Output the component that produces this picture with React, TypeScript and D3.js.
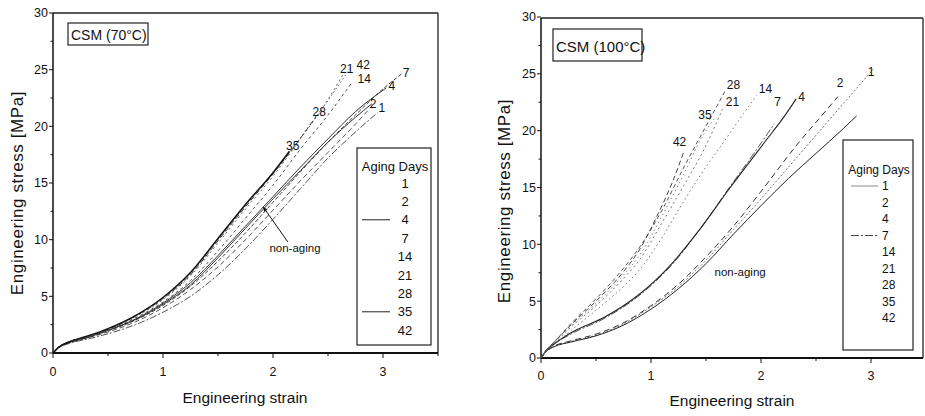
import React, { useEffect } from 'react';
import * as d3 from 'd3';

type Pt = [number, number];

// ---------- CSM 70°C : [strain, stress MPa] ----------
const c70_d1: Pt[] = [[0,0],[0.05,0.45],[0.15,0.85],[0.3,1.2],[0.5,1.7],[0.75,2.5],[1.0,3.6],[1.25,5.0],[1.5,6.9],[1.75,9.2],[2.0,11.8],[2.25,14.5],[2.5,17.2],[2.75,19.5],[2.95,21.2]];
const c70_d2: Pt[] = [[0,0],[0.05,0.45],[0.15,0.9],[0.3,1.3],[0.5,1.85],[0.75,2.75],[1.0,4.0],[1.25,5.6],[1.5,7.6],[1.75,10.0],[2.0,12.6],[2.25,15.2],[2.5,17.7],[2.75,20.2],[2.9,21.8]];
const c70_d4: Pt[] = [[0,0],[0.05,0.5],[0.15,0.95],[0.3,1.35],[0.5,2.0],[0.75,3.0],[1.0,4.4],[1.25,6.2],[1.5,8.6],[1.75,11.2],[2.0,13.8],[2.25,16.4],[2.5,18.9],[2.75,21.3],[3.03,23.4]];
const c70_d7: Pt[] = [[0,0],[0.05,0.5],[0.15,0.9],[0.3,1.3],[0.5,1.95],[0.75,2.9],[1.0,4.2],[1.25,5.9],[1.5,8.1],[1.75,10.6],[2.0,13.3],[2.25,16.0],[2.5,18.6],[2.75,21.0],[3.0,23.3],[3.18,24.7]];
const c70_d14: Pt[] = [[0,0],[0.05,0.5],[0.15,0.95],[0.3,1.35],[0.5,2.05],[0.75,3.1],[1.0,4.5],[1.25,6.4],[1.5,9.0],[1.75,11.9],[2.0,14.8],[2.25,18.0],[2.5,21.0],[2.72,23.9]];
const c70_d21: Pt[] = [[0,0],[0.05,0.5],[0.15,1.0],[0.3,1.4],[0.5,2.1],[0.75,3.2],[1.0,4.7],[1.25,6.8],[1.5,9.7],[1.75,12.7],[2.0,15.6],[2.25,18.9],[2.45,21.6],[2.65,24.8]];
const c70_d28: Pt[] = [[0,0],[0.05,0.5],[0.15,1.0],[0.3,1.4],[0.5,2.1],[0.75,3.25],[1.0,4.8],[1.25,6.9],[1.5,9.9],[1.75,12.9],[2.0,15.8],[2.2,18.3],[2.4,21.0]];
const c70_d35: Pt[] = [[0,0],[0.05,0.5],[0.15,1.0],[0.3,1.45],[0.5,2.15],[0.75,3.3],[1.0,4.9],[1.25,7.1],[1.5,10.1],[1.75,13.1],[2.0,15.9],[2.15,17.8]];
const c70_d42: Pt[] = [[0,0],[0.05,0.5],[0.15,1.0],[0.3,1.4],[0.5,2.1],[0.75,3.25],[1.0,4.8],[1.25,7.0],[1.5,10.0],[1.75,13.0],[2.0,15.9],[2.25,19.0],[2.5,22.3],[2.7,25.1]];
const c70_non: Pt[] = [[0,0],[0.05,0.5],[0.15,0.95],[0.3,1.35],[0.5,2.0],[0.75,2.95],[1.0,4.3],[1.25,6.0],[1.5,8.4],[1.75,11.0],[2.0,13.6],[2.25,16.1],[2.5,18.6],[2.75,20.8],[2.9,22.0]];

// ---------- CSM 100°C ----------
const c100_non: Pt[] = [[0,0],[0.05,0.6],[0.12,1.0],[0.27,1.4],[0.5,1.95],[0.73,2.8],[1.0,4.3],[1.25,6.1],[1.5,8.3],[1.75,10.9],[2.0,13.4],[2.25,15.8],[2.5,18.0],[2.75,20.2],[2.87,21.3]];
const c100_d1: Pt[] = [[0,0],[0.05,0.6],[0.12,1.0],[0.27,1.45],[0.5,2.0],[0.73,2.9],[1.0,4.5],[1.25,6.3],[1.5,8.6],[1.75,11.3],[2.0,14.0],[2.25,16.8],[2.5,19.6],[2.75,22.4],[3.02,25.4]];
const c100_d2: Pt[] = [[0,0],[0.05,0.6],[0.12,1.05],[0.27,1.5],[0.5,2.1],[0.73,3.0],[1.0,4.6],[1.25,6.5],[1.5,8.9],[1.75,11.6],[2.02,14.9],[2.33,18.8],[2.55,21.3],[2.7,23.0]];
const c100_d4: Pt[] = [[0,0],[0.05,0.7],[0.1,1.1],[0.27,2.2],[0.58,3.6],[0.88,5.5],[1.18,8.2],[1.45,11.4],[1.72,15.0],[2.05,19.2],[2.2,21.1],[2.32,22.8]];
const c100_d7: Pt[] = [[0,0],[0.05,0.7],[0.1,1.1],[0.27,2.1],[0.58,3.5],[0.88,5.4],[1.18,8.1],[1.45,11.4],[1.72,15.1],[1.95,18.2],[2.12,20.6]];
const c100_d14: Pt[] = [[0,0],[0.05,0.6],[0.1,1.0],[0.27,2.4],[0.5,4.2],[0.75,6.3],[0.9,7.8],[1.1,10.6],[1.26,13.2],[1.45,16.1],[1.69,19.4],[1.84,21.5],[1.96,23.1]];
const c100_d21: Pt[] = [[0,0],[0.05,0.65],[0.1,1.1],[0.27,2.7],[0.5,4.6],[0.75,7.0],[0.9,8.7],[1.1,11.9],[1.3,15.2],[1.5,18.7],[1.65,21.9]];
const c100_d28: Pt[] = [[0,0],[0.05,0.7],[0.1,1.2],[0.27,3.0],[0.5,5.2],[0.75,7.9],[0.9,9.8],[1.1,13.0],[1.3,16.8],[1.5,20.4],[1.68,23.6]];
const c100_d35: Pt[] = [[0,0],[0.05,0.7],[0.1,1.2],[0.27,2.8],[0.5,4.8],[0.75,7.3],[0.9,9.1],[1.1,12.5],[1.3,16.2],[1.45,19.2],[1.57,21.0]];
const c100_d42: Pt[] = [[0,0],[0.05,0.7],[0.1,1.2],[0.27,2.9],[0.5,5.0],[0.75,7.6],[0.9,9.6],[1.05,12.4],[1.2,15.6],[1.3,18.2]];

// ---------- labels ----------
const DAYS = ['1', '2', '4', '7', '14', '21', '28', '35', '42'];
const Y_TICKS = [0, 5, 10, 15, 20, 25, 30];
const Y_MINOR = [2.5, 7.5, 12.5, 17.5, 22.5, 27.5];
const X_TICKS = [0, 1, 2, 3];
const X_MINOR = [0.5, 1.5, 2.5, 3.5];

// curve-end annotations [text, strain, stress]
const c70_notes: [string, number, number][] = [['21',2.67,25.1],['42',2.82,25.45],['14',2.83,24.2],['7',3.21,24.7],['4',3.08,23.6],['2',2.91,22.0],['1',2.99,21.6],['28',2.42,21.3],['35',2.18,18.3]];
const c100_notes: [string, number, number][] = [['28',1.75,24.0],['14',2.04,23.7],['21',1.74,22.5],['7',2.15,22.5],['4',2.37,23.0],['2',2.72,24.2],['1',3.0,25.2],['35',1.49,21.4],['42',1.26,19.0]];

const FONT = '"Liberation Sans", Arial, Helvetica, sans-serif';

type Series = { data: Pt[]; dash?: string; color: string; w: number };

type Cfg = {
  x0: number; x1: number; y0: number; y1: number;
  frameRight: number; frameTop: number;
  series: Series[];
  notes: [string, number, number][];
  nonAging: { s: number; v: number; arrow?: [number, number, number, number] };
  title: { text: string; x: number; y: number; w: number; h: number; fs: number; tx: number; ty: number };
  legend: { x: number; y: number; w: number; h: number; hx: number; hy: number; fs: number; nx: number; anchor: string; first: number; step: number; sx0: number; sx1: number; samples: Record<string, Series> };
  yTitle: { x: number; y: number };
  xTitle: { x: number; y: number };
  tickLabelY: number;
};

function Panel({ cfg }: { cfg: Cfg }) {
  const x = d3.scaleLinear().domain([0, 3.5]).range([cfg.x0, cfg.x1]);
  const y = d3.scaleLinear().domain([0, 30]).range([cfg.y0, cfg.y1]);
  const line = d3.line<Pt>().x(d => x(d[0])).y(d => y(d[1])).curve(d3.curveMonotoneX);
  const L = cfg.legend;
  return (
    <g fontFamily={FONT}>
      {/* frame */}
      <line x1={x(0)} x2={cfg.frameRight} y1={cfg.frameTop} y2={cfg.frameTop} stroke="#222" strokeWidth={1.3} />
      <line x1={cfg.frameRight} x2={cfg.frameRight} y1={cfg.frameTop} y2={y(0)} stroke="#222" strokeWidth={1.3} />
      <line x1={x(0)} x2={x(0)} y1={cfg.frameTop} y2={y(0)} stroke="#111" strokeWidth={1.5} />
      <line x1={x(0)} x2={cfg.frameRight} y1={y(0)} y2={y(0)} stroke="#111" strokeWidth={2} />
      {/* y ticks */}
      {Y_TICKS.map(t => (
        <g key={'y' + t}>
          <line x1={x(0) - 4} x2={x(0)} y1={y(t)} y2={y(t)} stroke="#111" strokeWidth={1} />
          <text x={x(0) - 5} y={y(t)} dy="0.35em" textAnchor="end" fontSize={12.5} fill="#111">{t}</text>
        </g>
      ))}
      {Y_MINOR.map(t => (
        <line key={'ym' + t} x1={x(0) - 2.5} x2={x(0)} y1={y(t)} y2={y(t)} stroke="#111" strokeWidth={1} />
      ))}
      {X_TICKS.map(t => (
        <g key={'x' + t}>
          <line x1={x(t)} x2={x(t)} y1={y(0)} y2={y(0) + 5} stroke="#111" strokeWidth={1} />
          <text x={x(t)} y={cfg.tickLabelY} textAnchor="middle" fontSize={12.5} fill="#111">{t}</text>
        </g>
      ))}
      {X_MINOR.map(t => (
        <line key={'xm' + t} x1={x(t)} x2={x(t)} y1={y(0)} y2={y(0) + 3} stroke="#111" strokeWidth={1} />
      ))}
      {/* axis titles */}
      <text x={cfg.xTitle.x} y={cfg.xTitle.y} textAnchor="middle" fontSize={15.5} fill="#111">Engineering strain</text>
      <text transform={`translate(${cfg.yTitle.x},${cfg.yTitle.y}) rotate(-90)`} textAnchor="middle" fontSize={17} letterSpacing={0.6} fill="#111">Engineering stress [MPa]</text>
      {/* curves */}
      {cfg.series.map((s, i) => (
        <path key={'c' + i} d={line(s.data) || ''} fill="none" stroke={s.color} strokeWidth={s.w} strokeDasharray={s.dash} />
      ))}
      {/* notes */}
      {cfg.notes.map(([t, s, v], i) => (
        <text key={'n' + i} x={x(s)} y={y(v)} dy="0.35em" textAnchor="middle" fontSize={12} fill="#111">{t}</text>
      ))}
      <text x={x(cfg.nonAging.s)} y={y(cfg.nonAging.v)} dy="0.35em" textAnchor="middle" fontSize={11.5} fill="#111">non-aging</text>
      {cfg.nonAging.arrow && (() => {
        const [s1, v1, s2, v2] = cfg.nonAging.arrow;
        const ax = x(s2), ay = y(v2), bx = x(s1), by = y(v1);
        const ang = Math.atan2(ay - by, ax - bx);
        const hl = 5, hw = 0.4;
        return (
          <g>
            <line x1={bx} y1={by} x2={ax} y2={ay} stroke="#111" strokeWidth={1} />
            <path d={`M${ax},${ay} L${ax - hl * Math.cos(ang - hw)},${ay - hl * Math.sin(ang - hw)} L${ax - hl * Math.cos(ang + hw)},${ay - hl * Math.sin(ang + hw)} Z`} fill="#111" />
          </g>
        );
      })()}
      {/* title box */}
      <rect x={cfg.title.x} y={cfg.title.y} width={cfg.title.w} height={cfg.title.h} fill="white" stroke="#222" strokeWidth={1.2} />
      <text x={cfg.title.tx} y={cfg.title.ty} fontSize={cfg.title.fs} fill="#111">{cfg.title.text}</text>
      {/* legend */}
      <rect x={L.x} y={L.y} width={L.w} height={L.h} fill="white" stroke="#222" strokeWidth={1.2} />
      <text x={L.hx} y={L.hy} dy="0.35em" textAnchor="middle" fontSize={L.fs} fill="#111">Aging Days</text>
      {DAYS.map((d, i) => {
        const yy = L.first + i * L.step;
        const smp = L.samples[d];
        return (
          <g key={'l' + d}>
            {smp && <line x1={L.sx0} x2={L.sx1} y1={yy} y2={yy} stroke={smp.color} strokeWidth={smp.w} strokeDasharray={smp.dash} />}
            <text x={L.nx} y={yy} dy="0.35em" textAnchor={L.anchor as any} fontSize={L.fs} fill="#111">{d}</text>
          </g>
        );
      })}
    </g>
  );
}

const left: Cfg = {
  x0: 53, x1: 438, y0: 353, y1: 13, frameRight: 438, frameTop: 13,
  series: [
    { data: c70_d1, dash: '7,2,2,2', color: '#555', w: 1 },
    { data: c70_d2, dash: '5,3', color: '#555', w: 1 },
    { data: c70_d7, dash: '4,2', color: '#444', w: 1 },
    { data: c70_non, color: '#333', w: 1 },
    { data: c70_d4, color: '#333', w: 1 },
    { data: c70_d14, dash: '3,3', color: '#555', w: 1 },
    { data: c70_d21, dash: '2,3', color: '#666', w: 1 },
    { data: c70_d42, dash: '1.5,2.5', color: '#666', w: 1 },
    { data: c70_d28, dash: '5,3', color: '#444', w: 1 },
    { data: c70_d35, color: '#111', w: 1.5 },
  ],
  notes: c70_notes,
  nonAging: { s: 2.2, v: 9.3, arrow: [2.135, 9.8, 1.91, 12.9] },
  title: { text: 'CSM (70°C)', x: 68, y: 23, w: 80, h: 22, fs: 14, tx: 71, ty: 40 },
  legend: { x: 357, y: 148, w: 74, h: 197, hx: 395, hy: 166, fs: 13, nx: 405, anchor: 'middle', first: 183, step: 18.4, sx0: 362, sx1: 390,
    samples: { '4': { data: [], color: '#222', w: 1 }, '35': { data: [], color: '#222', w: 1 } } },
  yTitle: { x: 23, y: 193 },
  xTitle: { x: 245, y: 403 },
  tickLabelY: 376,
};

const right: Cfg = {
  x0: 541, x1: 926, y0: 358, y1: 17, frameRight: 923, frameTop: 18,
  series: [
    { data: c100_d1, dash: '2,2', color: '#777', w: 1 },
    { data: c100_non, color: '#222', w: 1 },
    { data: c100_d2, dash: '6,4', color: '#333', w: 1 },
    { data: c100_d7, dash: '8,2,2,2', color: '#555', w: 1 },
    { data: c100_d4, color: '#222', w: 1.1 },
    { data: c100_d14, dash: '1.5,3', color: '#777', w: 1 },
    { data: c100_d21, dash: '2,3', color: '#777', w: 1 },
    { data: c100_d28, dash: '4,3', color: '#555', w: 1 },
    { data: c100_d35, dash: '1.5,3', color: '#888', w: 1 },
    { data: c100_d42, dash: '5,3', color: '#444', w: 1 },
  ],
  notes: c100_notes,
  nonAging: { s: 1.81, v: 7.6 },
  title: { text: 'CSM (100°C)', x: 553, y: 29, w: 89, h: 32, fs: 15, tx: 556, ty: 52 },
  legend: { x: 843, y: 140, w: 70, h: 210, hx: 879, hy: 170, fs: 12, nx: 882, anchor: 'start', first: 186, step: 16.5, sx0: 851, sx1: 878,
    samples: { '1': { data: [], color: '#888', w: 1 }, '7': { data: [], dash: '8,2,2,2', color: '#444', w: 1 } } },
  yTitle: { x: 510, y: 201 },
  xTitle: { x: 732, y: 406 },
  tickLabelY: 380,
};

export default function App() {
  useEffect(() => {
    document.body.style.margin = '0';
  }, []);
  return (
    <svg width={925} height={416} viewBox="0 0 925 416" style={{ display: 'block', position: 'absolute', left: 0, top: 0, background: 'white' }}>
      <rect x={0} y={0} width={925} height={416} fill="white" />
      <Panel cfg={left} />
      <Panel cfg={right} />
    </svg>
  );
}
